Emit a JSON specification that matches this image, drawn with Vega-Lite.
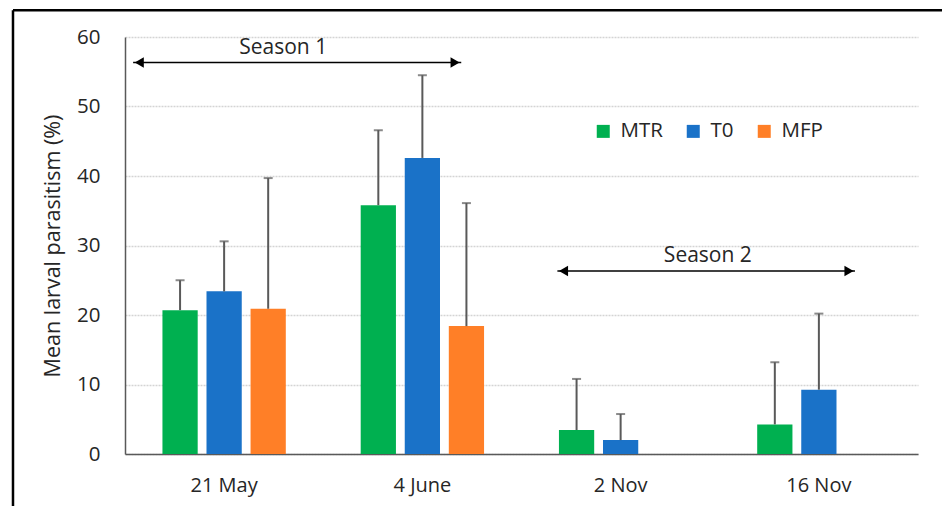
{
  "$schema": "https://vega.github.io/schema/vega-lite/v6.json",
  "width": 793,
  "height": 417,
  "autosize": {"type": "none"},
  "padding": {"left": 125, "top": 37, "right": 24, "bottom": 52},
  "background": "white",
  "config": {
    "font": "Open Sans",
    "view": {"stroke": null},
    "axis": {"labelFont": "Open Sans", "titleFont": "Open Sans", "labelColor": "#262626", "titleColor": "#262626"}
  },
  "datasets": {
    "bars": [
      {"date": "21 May", "group": "MTR", "value": 20.7, "upper": 25.0},
      {"date": "21 May", "group": "T0", "value": 23.4, "upper": 30.6},
      {"date": "21 May", "group": "MFP", "value": 20.9, "upper": 39.7},
      {"date": "4 June", "group": "MTR", "value": 35.8, "upper": 46.6},
      {"date": "4 June", "group": "T0", "value": 42.6, "upper": 54.5},
      {"date": "4 June", "group": "MFP", "value": 18.4, "upper": 36.1},
      {"date": "2 Nov", "group": "MTR", "value": 3.45, "upper": 10.8},
      {"date": "2 Nov", "group": "T0", "value": 2.0, "upper": 5.75},
      {"date": "16 Nov", "group": "MTR", "value": 4.26, "upper": 13.2},
      {"date": "16 Nov", "group": "T0", "value": 9.25, "upper": 20.2}
    ],
    "arrows": [
      {"season": "Season 1", "x1": 0.041, "x2": 1.696, "y": 56.33, "left": 0.072, "right": 1.665, "tx": 0.798, "ty": 58.4},
      {"season": "Season 2", "x1": 2.181, "x2": 3.682, "y": 26.34, "left": 2.212, "right": 3.652, "tx": 2.94, "ty": 28.45}
    ],
    "frame": [
      {"fx": -0.565, "fx2": 4.3, "fy": 63.85, "fy2": 63.85},
      {"fx": -0.565, "fx2": -0.565, "fy": 63.85, "fy2": -12}
    ]
  },
  "layer": [
    {
      "layer": [
        {
          "data": {"name": "bars"},
          "mark": {"type": "bar"},
          "encoding": {
            "x": {
              "field": "date", "type": "nominal",
              "sort": ["21 May", "4 June", "2 Nov", "16 Nov"],
              "scale": {"paddingInner": 0, "paddingOuter": 0},
              "axis": {"title": null, "labelAngle": 0, "ticks": false, "labelFontSize": 20, "labelPadding": 21, "domainColor": "#595959", "domainWidth": 1.5, "grid": false}
            },
            "xOffset": {
              "field": "group", "type": "nominal",
              "sort": ["MTR", "T0", "MFP"],
              "scale": {"paddingInner": 0.2, "paddingOuter": 0.85}
            },
            "y": {
              "field": "value", "type": "quantitative",
              "scale": {"domain": [0, 60], "nice": false},
              "axis": {"title": "Mean larval parasitism (%)", "titleFontSize": 21.5, "titleFontWeight": "normal", "titlePadding": 12, "values": [0, 10, 20, 30, 40, 50, 60], "labelFontSize": 20.5, "labelPadding": 25, "ticks": false, "domainColor": "#595959", "domainWidth": 1.5, "gridColor": "#d4d4d4", "gridWidth": 1.5, "gridDash": [2, 1]}
            },
            "color": {
              "field": "group", "type": "nominal",
              "sort": ["MTR", "T0", "MFP"],
              "scale": {"domain": ["MTR", "T0", "MFP"], "range": ["#00b050", "#1a72c8", "#ff7f27"]},
              "legend": {
                "title": null, "orient": "none", "direction": "horizontal",
                "legendX": 468, "legendY": 84,
                "symbolType": "square", "symbolSize": 169, "symbolStrokeWidth": 0,
                "labelFontSize": 20.5, "labelColor": "#262626", "labelOffset": 7,
                "columnPadding": 20
              }
            }
          }
        },
        {
          "data": {"name": "bars"},
          "mark": {"type": "rule", "color": "#595959", "strokeWidth": 2},
          "encoding": {
            "x": {"field": "date", "type": "nominal", "sort": ["21 May", "4 June", "2 Nov", "16 Nov"]},
            "xOffset": {"field": "group", "type": "nominal", "sort": ["MTR", "T0", "MFP"]},
            "y": {"field": "value", "type": "quantitative"},
            "y2": {"field": "upper"}
          }
        },
        {
          "data": {"name": "bars"},
          "mark": {"type": "tick", "color": "#595959", "thickness": 2, "size": 9, "orient": "horizontal"},
          "encoding": {
            "x": {"field": "date", "type": "nominal", "sort": ["21 May", "4 June", "2 Nov", "16 Nov"]},
            "xOffset": {"field": "group", "type": "nominal", "sort": ["MTR", "T0", "MFP"]},
            "y": {"field": "upper", "type": "quantitative"}
          }
        }
      ]
    },
    {
      "layer": [
        {
          "data": {"name": "arrows"},
          "mark": {"type": "rule", "color": "#000000", "strokeWidth": 1.5},
          "encoding": {
            "x": {"field": "x1", "type": "quantitative", "scale": {"domain": [0, 4], "nice": false, "zero": false}, "axis": null},
            "x2": {"field": "x2"},
            "y": {"field": "y", "type": "quantitative"}
          }
        },
        {
          "data": {"name": "arrows"},
          "mark": {"type": "point", "shape": "triangle-left", "filled": true, "color": "#000000", "size": 110, "opacity": 1},
          "encoding": {
            "x": {"field": "left", "type": "quantitative"},
            "y": {"field": "y", "type": "quantitative"}
          }
        },
        {
          "data": {"name": "arrows"},
          "mark": {"type": "point", "shape": "triangle-right", "filled": true, "color": "#000000", "size": 110, "opacity": 1},
          "encoding": {
            "x": {"field": "right", "type": "quantitative"},
            "y": {"field": "y", "type": "quantitative"}
          }
        },
        {
          "data": {"name": "arrows"},
          "mark": {"type": "text", "fontSize": 21, "color": "#262626", "baseline": "middle", "align": "center"},
          "encoding": {
            "x": {"field": "tx", "type": "quantitative"},
            "y": {"field": "ty", "type": "quantitative"},
            "text": {"field": "season"}
          }
        },
        {
          "data": {"name": "frame"},
          "mark": {"type": "rule", "color": "#000000", "strokeWidth": 2.5, "clip": false},
          "encoding": {
            "x": {"field": "fx", "type": "quantitative"},
            "x2": {"field": "fx2"},
            "y": {"field": "fy", "type": "quantitative"},
            "y2": {"field": "fy2"}
          }
        }
      ]
    }
  ],
  "resolve": {"scale": {"x": "independent"}, "axis": {"x": "independent"}}
}
